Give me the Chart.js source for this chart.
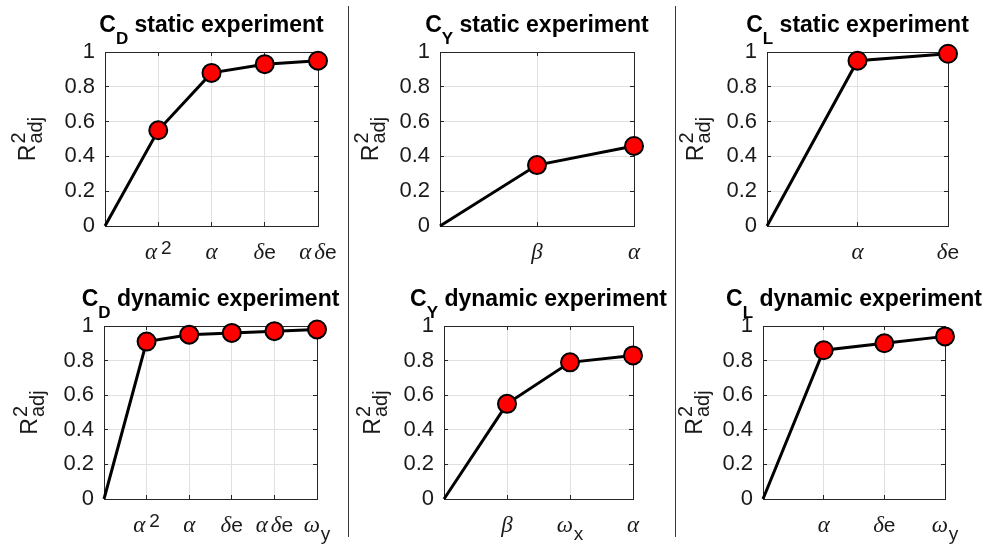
<!DOCTYPE html>
<html>
<head>
<meta charset="utf-8">
<script src="https://cdn.jsdelivr.net/npm/chart.js@4"></script>
<style>
  html, body { margin: 0; padding: 0; background: #fff; }
  #wrap { position: relative; width: 984px; height: 548px; overflow: hidden; }
  #wrap canvas { position: absolute; }
  .sep { position: absolute; width: 1px; top: 6px; height: 531px; background: #3a3a3a; }
</style>
</head>
<body>
<div id="wrap">
  <div class="sep" style="left:348px"></div>
  <div class="sep" style="left:675px"></div>
</div>
<script>
// terms added to each model, in order, and the adjusted R² reached after each one
const cdStaticTerms = ['α^2', 'α', 'δe', 'αδe'];
const cdStaticR2 = [0.55, 0.88, 0.93, 0.95];
const cyStaticTerms = ['β', 'α'];
const cyStaticR2 = [0.35, 0.46];
const clStaticTerms = ['α', 'δe'];
const clStaticR2 = [0.95, 0.99];
const cdDynamicTerms = ['α^2', 'α', 'δe', 'αδe', 'ω_y'];
const cdDynamicR2 = [0.91, 0.95, 0.96, 0.97, 0.98];
const cyDynamicTerms = ['β', 'ω_x', 'α'];
const cyDynamicR2 = [0.55, 0.79, 0.83];
const clDynamicTerms = ['α', 'δe', 'ω_y'];
const clDynamicR2 = [0.86, 0.90, 0.94];
const yTicks = [0, 0.2, 0.4, 0.6, 0.8, 1];

// box = plot area [left, top, right, bottom] on the page, ylabX = baseline of the rotated y label
const panels = [
  { title: 'C_D static experiment',  terms: cdStaticTerms,  r2: cdStaticR2,  box: [105, 52, 318, 226], ylabX: 35 },
  { title: 'C_Y static experiment',  terms: cyStaticTerms,  r2: cyStaticR2,  box: [440, 52, 634, 226], ylabX: 378 },
  { title: 'C_L static experiment',  terms: clStaticTerms,  r2: clStaticR2,  box: [767, 52, 948, 226], ylabX: 703 },
  { title: 'C_D dynamic experiment', terms: cdDynamicTerms, r2: cdDynamicR2, box: [104, 326, 317, 499], ylabX: 37 },
  { title: 'C_Y dynamic experiment', terms: cyDynamicTerms, r2: cyDynamicR2, box: [444, 326, 633, 499], ylabX: 380 },
  { title: 'C_L dynamic experiment', terms: clDynamicTerms, r2: clDynamicR2, box: [763, 326, 945, 499], ylabX: 702 }
];

const SANS = '"Liberation Sans"';
const SERIF = '"Liberation Serif"';
const AXIS = '#262626';
const GRID = '#e0e0e0';

const titleStyle = { size: 23, weight: 'bold', greekSize: 23, scriptScale: 0.75, supGap: 0, subGap: 0, greekGap: 0, supShift: 8, subShift: 12, color: '#000' };
const tickStyle = { size: 21, weight: 'normal', greekSize: 23, scriptScale: 0.9, supGap: 4, subGap: 1, greekGap: 3, supShift: 5, subShift: 8, color: '#1a1a1a' };
const ylabStyle = { size: 23, weight: 'normal', greekSize: 23, scriptScale: 0.85, supGap: 1, subGap: 1, greekGap: 0, supShift: 10, subShift: 7, color: '#1a1a1a' };

Chart.defaults.font.family = 'Liberation Sans';

// tiny TeX-ish markup: x^2, x_y, x_{adj}; greek letters in italic serif
function parseRich(str) {
  const runs = [];
  let i = 0;
  while (i < str.length) {
    const c = str[i];
    if (c === '^' || c === '_') {
      let t;
      if (str[i + 1] === '{') {
        const j = str.indexOf('}', i);
        t = str.slice(i + 2, j);
        i = j + 1;
      } else {
        t = str[i + 1];
        i += 2;
      }
      runs.push({ text: t, mode: c === '^' ? 'sup' : 'sub', greek: false });
      continue;
    }
    const greek = /[\u0370-\u03ff]/.test(c);
    const last = runs[runs.length - 1];
    // greek letters stay one per run so they can be spaced apart
    if (!greek && last && last.mode === 'base' && !last.greek) last.text += c;
    else runs.push({ text: c, mode: 'base', greek });
    i++;
  }
  return runs;
}

function layoutRich(ctx, str, st) {
  const items = [];
  let x = 0, supX = null, supEnd = 0, prevGreek = false;
  for (const r of parseRich(str)) {
    let font, dy = 0, x0 = x;
    if (r.mode === 'base') {
      font = r.greek ? `italic ${st.greekSize}px ${SERIF}` : `${st.weight} ${st.size}px ${SANS}`;
    } else {
      font = `${st.weight} ${Math.round(st.size * st.scriptScale)}px ${SANS}`;
    }
    ctx.font = font;
    const w = ctx.measureText(r.text).width;
    if (r.mode === 'sup') {
      x0 = x + st.supGap;
      dy = -st.supShift;
      supX = x0;
      supEnd = x0 + w;
      x = supEnd;
    } else if (r.mode === 'sub') {
      // a subscript right after a superscript stacks under it
      x0 = supX !== null ? supX : x + st.subGap;
      dy = st.subShift;
      x = Math.max(supX !== null ? supEnd : 0, x0 + w);
      supX = null;
    } else {
      if (r.greek && prevGreek) x0 = x + st.greekGap;
      supX = null;
      x = x0 + w;
    }
    prevGreek = r.mode === 'base' && r.greek;
    items.push({ text: r.text, font, x: x0, dy });
  }
  return { items, width: x };
}

function drawRich(ctx, str, st, cx, baseline) {
  const { items, width } = layoutRich(ctx, str, st);
  const left = cx - width / 2;
  ctx.textAlign = 'left';
  ctx.textBaseline = 'alphabetic';
  ctx.fillStyle = st.color;
  items.forEach(it => {
    ctx.font = it.font;
    ctx.fillText(it.text, left + it.x, baseline + it.dy);
  });
}

const panelDecor = {
  id: 'panelDecor',
  beforeDatasetsDraw(chart) {
    const { ctx, chartArea: a, scales } = chart;
    ctx.save();
    ctx.strokeStyle = AXIS;
    ctx.lineWidth = 1;
    ctx.beginPath();
    // top and right edges of the box
    ctx.moveTo(a.left, a.top + 0.5);
    ctx.lineTo(a.right + 1, a.top + 0.5);
    ctx.moveTo(a.right + 0.5, a.top);
    ctx.lineTo(a.right + 0.5, a.bottom);
    // inward tick marks on all four sides
    scales.x.ticks.forEach(t => {
      const px = Math.floor(scales.x.getPixelForValue(t.value)) + 0.5;
      ctx.moveTo(px, a.top); ctx.lineTo(px, a.top + 4);
      ctx.moveTo(px, a.bottom); ctx.lineTo(px, a.bottom - 4);
    });
    scales.y.ticks.forEach(t => {
      const py = Math.floor(scales.y.getPixelForValue(t.value)) + 0.5;
      ctx.moveTo(a.left, py); ctx.lineTo(a.left + 4, py);
      ctx.moveTo(a.right, py); ctx.lineTo(a.right - 4, py);
    });
    ctx.stroke();
    ctx.restore();
  },
  afterDraw(chart, args, opts) {
    const { ctx, chartArea: a, scales } = chart;
    ctx.save();
    const cx = (a.left + a.right) / 2;
    drawRich(ctx, opts.title, titleStyle, cx, a.top - 20);
    opts.terms.forEach((term, i) => {
      drawRich(ctx, term, tickStyle, scales.x.getPixelForValue(i + 1), a.bottom + 33);
    });
    ctx.translate(opts.ylabX, (a.top + a.bottom) / 2);
    ctx.rotate(-Math.PI / 2);
    drawRich(ctx, 'R^2_{adj}', ylabStyle, 0, 0);
    ctx.restore();
  }
};

const wrap = document.getElementById('wrap');

function makePanel(p) {
  const [L, T, R, B] = p.box;
  const padL = 95, padT = 50, padR = 50, padB = 55;
  const canvas = document.createElement('canvas');
  canvas.width = R - L + padL + padR;
  canvas.height = B - T + padT + padB;
  canvas.style.left = (L - padL) + 'px';
  canvas.style.top = (T - padT) + 'px';
  wrap.appendChild(canvas);

  const n = p.terms.length;
  // every curve starts from the empty model at the origin
  const points = [{ x: 0, y: 0 }].concat(p.r2.map((v, i) => ({ x: i + 1, y: v })));

  new Chart(canvas, {
    type: 'line',
    data: {
      datasets: [{
        data: points,
        borderColor: '#000',
        borderWidth: 3,
        pointBackgroundColor: '#ff0000',
        pointBorderColor: '#000',
        pointBorderWidth: 2,
        pointRadius: ctx => ctx.dataIndex === 0 ? 0 : 9,
        tension: 0,
        clip: false
      }]
    },
    options: {
      responsive: false,
      animation: false,
      events: [],
      layout: { padding: { left: 0, top: padT, right: padR, bottom: 0 } },
      plugins: {
        legend: { display: false },
        tooltip: { enabled: false },
        panelDecor: { title: p.title, terms: p.terms, ylabX: p.ylabX - (L - padL) }
      },
      scales: {
        x: {
          type: 'linear',
          min: 0,
          max: n,
          afterBuildTicks: s => { s.ticks = Array.from({ length: n + 1 }, (_, i) => ({ value: i })); },
          ticks: { display: false },
          grid: { color: GRID, drawTicks: false },
          border: { color: AXIS },
          afterFit: s => { s.height = padB; s.paddingLeft = 0; s.paddingRight = 0; }
        },
        y: {
          min: 0,
          max: 1,
          afterBuildTicks: s => { s.ticks = yTicks.map(v => ({ value: v })); },
          ticks: {
            color: '#1a1a1a',
            font: { size: 22 },
            padding: 10,
            callback: v => String(+v.toFixed(1))
          },
          grid: { color: GRID, drawTicks: false },
          border: { color: AXIS },
          afterFit: s => { s.width = padL; s.paddingTop = 0; s.paddingBottom = 0; }
        }
      }
    },
    plugins: [panelDecor]
  });
}

panels.forEach(makePanel);
</script>
</body>
</html>
